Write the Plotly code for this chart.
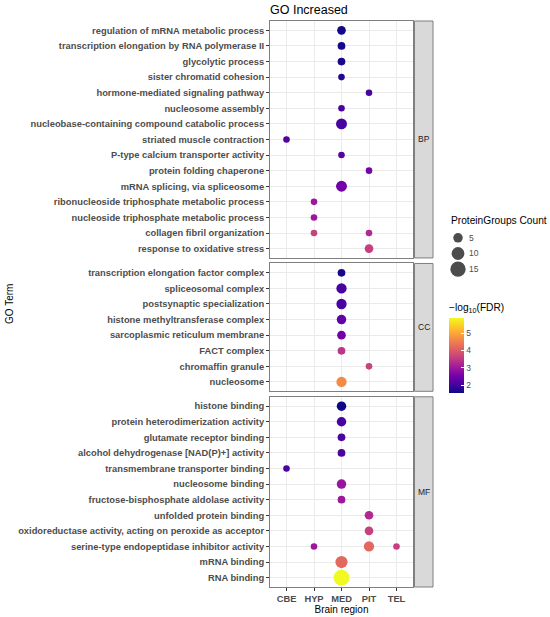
import numpy as np
import plotly.graph_objects as go

# Brain regions on the x axis
regions = ["CBE", "HYP", "MED", "PIT", "TEL"]

# GO terms per facet, listed top to bottom
bp_terms = [
    "regulation of mRNA metabolic process",
    "transcription elongation by RNA polymerase II",
    "glycolytic process",
    "sister chromatid cohesion",
    "hormone-mediated signaling pathway",
    "nucleosome assembly",
    "nucleobase-containing compound catabolic process",
    "striated muscle contraction",
    "P-type calcium transporter activity",
    "protein folding chaperone",
    "mRNA splicing, via spliceosome",
    "ribonucleoside triphosphate metabolic process",
    "nucleoside triphosphate metabolic process",
    "collagen fibril organization",
    "response to oxidative stress",
]
cc_terms = [
    "transcription elongation factor complex",
    "spliceosomal complex",
    "postsynaptic specialization",
    "histone methyltransferase complex",
    "sarcoplasmic reticulum membrane",
    "FACT complex",
    "chromaffin granule",
    "nucleosome",
]
mf_terms = [
    "histone binding",
    "protein heterodimerization activity",
    "glutamate receptor binding",
    "alcohol dehydrogenase [NAD(P)+] activity",
    "transmembrane transporter binding",
    "nucleosome binding",
    "fructose-bisphosphate aldolase activity",
    "unfolded protein binding",
    "oxidoreductase activity, acting on peroxide as acceptor",
    "serine-type endopeptidase inhibitor activity",
    "mRNA binding",
    "RNA binding",
]

# One entry per dot
ontology = (["BP"] * 16) + (["CC"] * 8) + (["MF"] * 14)
term = [
    "regulation of mRNA metabolic process",
    "transcription elongation by RNA polymerase II",
    "glycolytic process",
    "sister chromatid cohesion",
    "hormone-mediated signaling pathway",
    "nucleosome assembly",
    "nucleobase-containing compound catabolic process",
    "striated muscle contraction",
    "P-type calcium transporter activity",
    "protein folding chaperone",
    "mRNA splicing, via spliceosome",
    "ribonucleoside triphosphate metabolic process",
    "nucleoside triphosphate metabolic process",
    "collagen fibril organization",
    "collagen fibril organization",
    "response to oxidative stress",
    "transcription elongation factor complex",
    "spliceosomal complex",
    "postsynaptic specialization",
    "histone methyltransferase complex",
    "sarcoplasmic reticulum membrane",
    "FACT complex",
    "chromaffin granule",
    "nucleosome",
    "histone binding",
    "protein heterodimerization activity",
    "glutamate receptor binding",
    "alcohol dehydrogenase [NAD(P)+] activity",
    "transmembrane transporter binding",
    "nucleosome binding",
    "fructose-bisphosphate aldolase activity",
    "unfolded protein binding",
    "oxidoreductase activity, acting on peroxide as acceptor",
    "serine-type endopeptidase inhibitor activity",
    "serine-type endopeptidase inhibitor activity",
    "serine-type endopeptidase inhibitor activity",
    "mRNA binding",
    "RNA binding",
]
region = [
    "MED", "MED", "MED", "MED", "PIT", "MED", "MED", "CBE", "MED", "PIT",
    "MED", "HYP", "HYP", "HYP", "PIT", "PIT",
    "MED", "MED", "MED", "MED", "MED", "MED", "PIT", "MED",
    "MED", "MED", "MED", "MED", "CBE", "MED", "MED", "PIT", "PIT",
    "HYP", "PIT", "TEL", "MED", "MED",
]
count = [
    4, 3, 3, 2, 2, 2, 7, 2, 2, 2, 7, 2, 2, 2, 2, 4,
    3, 6, 6, 5, 4, 3, 2, 6,
    5, 5, 3, 3, 2, 5, 3, 4, 4, 2, 6, 2, 9, 16,
]
neg_log_fdr = [
    1.58, 1.62, 1.65, 1.75, 2.05, 2.07, 2.05, 2.15, 2.2, 2.55,
    2.5, 2.98, 2.98, 3.65, 3.27, 3.6,
    1.65, 2.05, 2.05, 2.3, 2.5, 3.45, 3.65, 4.65,
    1.54, 2.05, 2.1, 2.1, 2.1, 2.93, 3.0, 3.27, 3.6,
    3.0, 4.2, 3.6, 4.2, 5.87,
]
size_breaks = [5, 10, 15]


def dot_size(c):
    # area-like size scale matching the reference legend
    return 1.58 + 3.54 * np.sqrt(np.asarray(c, dtype=float))


facets = [("BP", bp_terms), ("CC", cc_terms), ("MF", mf_terms)]

# geometry in page pixels
W, H = 550, 617
left, right, top_px, bottom = 270, 550, 21, 587   # plot area
pw, ph = right - left, bottom - top_px
panel_w = 143


def px(x):
    return (x - left) / pw


def py(y):
    return (bottom - y) / ph


# panel heights follow the number of rows (ggplot space="free")
gap = 5.5
units = [len(t) - 1 + 1.2 for _, t in facets]
unit_px = (ph - gap * 2) / sum(units)
domains = []
edge = 1.0
for u in units:
    h = u * unit_px / ph
    domains.append([round(max(0.0, edge - h), 5), round(min(1.0, edge), 5)])
    edge -= h + gap / ph

fig = go.Figure()
grey_text = "#4D4D4D"
border = "#7F7F7F"
FONT = "Liberation Sans"
TICK = 9.35

for i, (name, terms) in enumerate(facets):
    ax = "" if i == 0 else str(i + 1)
    idx = [k for k, o in enumerate(ontology) if o == name]
    fig.add_trace(go.Scatter(
        x=[region[k] for k in idx],
        y=[term[k] for k in idx],
        mode="markers",
        marker=dict(
            size=dot_size([count[k] for k in idx]),
            color=[neg_log_fdr[k] for k in idx],
            coloraxis="coloraxis",
            line=dict(width=0),
            opacity=1,
        ),
        xaxis="x" + ax, yaxis="y" + ax,
        showlegend=False,
        hovertemplate="%{y}<br>%{x}<extra></extra>",
    ))
    last = i == len(facets) - 1
    xa = dict(
        type="category", categoryorder="array", categoryarray=regions,
        range=[-0.6, len(regions) - 0.4], anchor="y" + ax,
        domain=[0, panel_w / pw],
        showgrid=True, gridcolor="#EBEBEB", gridwidth=1,
        showline=True, mirror=True, linecolor=border, linewidth=1,
        ticks="outside" if last else "", ticklen=3, tickcolor="#333333",
        showticklabels=last,
        tickfont=dict(family=FONT, size=TICK, color=grey_text, weight="bold"),
    )
    if last:
        xa["title"] = dict(text="Brain region", standoff=1,
                           font=dict(family=FONT, size=10, color="black"))
    if i > 0:
        xa["matches"] = "x"
    fig.update_layout({
        "xaxis" + ax: xa,
        "yaxis" + ax: dict(
            type="category", categoryorder="array", categoryarray=terms[::-1],
            range=[-0.6, len(terms) - 0.4], anchor="x" + ax,
            domain=domains[i],
            showgrid=True, gridcolor="#EBEBEB", gridwidth=1,
            showline=True, mirror=True, linecolor=border, linewidth=1,
            ticks="outside", ticklen=3, tickcolor="#333333",
            tickfont=dict(family=FONT, size=TICK, color=grey_text, weight="bold"),
        ),
    })
    # facet strip
    x0 = (panel_w + 1.5) / pw
    x1 = (panel_w + 20) / pw
    fig.add_shape(type="rect", xref="paper", yref="paper",
                  x0=x0, x1=x1, y0=domains[i][0], y1=domains[i][1],
                  fillcolor="#D9D9D9", line=dict(color=border, width=1), layer="below")
    fig.add_annotation(text=name, xref="paper", yref="paper",
                       x=(x0 + x1) / 2, y=sum(domains[i]) / 2, showarrow=False,
                       xanchor="center", yanchor="middle",
                       font=dict(family=FONT, size=8.5, color="#1A1A1A"))

# size legend drawn on its own small axes
fig.add_trace(go.Scatter(
    x=["count"] * len(size_breaks), y=[str(b) for b in size_breaks],
    mode="markers",
    marker=dict(size=dot_size(size_breaks), color="black", line=dict(width=0)),
    xaxis="x4", yaxis="y4", showlegend=False, hoverinfo="skip",
))
fig.update_layout(
    xaxis4=dict(domain=[px(448), px(468)], anchor="y4", type="category",
                range=[-0.5, 0.5], visible=False, fixedrange=True),
    yaxis4=dict(domain=[py(277), py(230)], anchor="x4", type="category",
                categoryorder="array", categoryarray=[str(b) for b in size_breaks][::-1],
                range=[-0.5, len(size_breaks) - 0.5], side="right",
                showgrid=False, zeroline=False, showline=False, ticks="",
                tickfont=dict(family=FONT, size=8.5, color=grey_text),
                fixedrange=True),
)
fig.add_annotation(text="ProteinGroups Count", xref="paper", yref="paper",
                   x=px(449), y=py(221), xanchor="left", yanchor="middle",
                   showarrow=False, font=dict(family=FONT, size=10.2, color="black"))

fig.add_annotation(text="GO Term", xref="paper", yref="paper",
                   x=px(9), y=py(304), textangle=-90,
                   xanchor="center", yanchor="middle", showarrow=False,
                   font=dict(family=FONT, size=10, color="black"))

fig.update_layout(
    width=W, height=H,
    margin=dict(l=left, r=W - right, t=top_px, b=H - bottom, autoexpand=False),
    paper_bgcolor="white", plot_bgcolor="white",
    title=dict(text="GO Increased", x=left / W, xanchor="left",
               y=1 - 10 / H, yanchor="middle",
               font=dict(family=FONT, size=12.5, color="black")),
    font=dict(family=FONT, size=9, color=grey_text),
    showlegend=False,
    coloraxis=dict(
        colorscale="Plasma",
        colorbar=dict(
            title=dict(text="\u2212log<sub>10</sub>(FDR)", side="top",
                       font=dict(family=FONT, size=10.2, color="black")),
            x=px(449), xanchor="left",
            y=py(300), yanchor="top",
            lenmode="pixels", len=93, thickness=15, thicknessmode="pixels",
            outlinewidth=0, ypad=0, xpad=0,
            ticks="inside", ticklen=3, tickcolor="white",
            tickvals=[2, 3, 4, 5],
            tickfont=dict(family=FONT, size=8.5, color=grey_text),
        ),
    ),
)

# drop the default page margin so the figure sits at the window corner
fig.write_html("out.html", config={"displayModeBar": False},
               post_script="document.body.style.margin = '0';")
